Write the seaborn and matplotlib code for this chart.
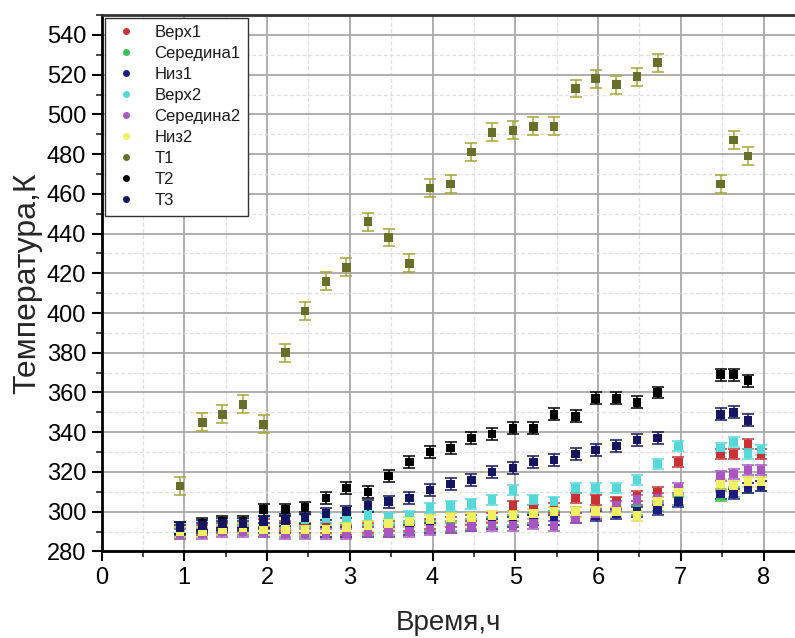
import matplotlib
matplotlib.use("Agg")
import matplotlib.pyplot as plt
from matplotlib.lines import Line2D
from matplotlib.ticker import MultipleLocator
import pandas as pd
import seaborn as sns

# Measurement times, hours
time_probe = [0.95, 1.22, 1.46, 1.71, 1.96, 2.22, 2.46, 2.71, 2.96, 3.22, 3.47, 3.72,
              3.97, 4.22, 4.47, 4.72, 4.97, 5.22, 5.47, 5.73, 5.97, 6.22, 6.47, 6.72,
              6.97, 7.48, 7.64, 7.81, 7.97]
time_t = [0.95, 1.22, 1.46, 1.71, 1.96, 2.22, 2.46, 2.71, 2.96, 3.22, 3.47, 3.72,
          3.97, 4.22, 4.47, 4.72, 4.97, 5.22, 5.47, 5.73, 5.97, 6.22, 6.47, 6.72,
          7.48, 7.64, 7.81]

# Temperatures, K
verh1 = [290, 291, 292, 292, 294, 293, 292, 292, 291, 292, 293, 293, 294, 295, 296,
         297, 303, 301, 302, 307, 306, 305, 308, 310, 325, 329, 329, 334, 329]
seredina1 = [289, 290, 291, 291, 290, 290, 290, 290, 290, 291, 291, 292, 293, 293, 294,
             295, 296, 297, 298, 300, 299, 300, 301, 303, 306, 308, 310, 312, 313]
niz1 = [291, 292, 293, 293, 292, 292, 291, 290, 290, 290, 290, 291, 292, 292, 293,
        294, 295, 296, 296, 297, 298, 299, 300, 301, 305, 309, 309, 312, 313]
verh2 = [292, 293, 294, 294, 295, 296, 296, 297, 297, 298, 297, 298, 302, 303, 304,
         306, 311, 306, 305, 312, 312, 312, 316, 324, 333, 332, 335, 329, 331]
seredina2 = [289, 289, 290, 290, 290, 289, 289, 289, 289, 290, 290, 290, 291, 292, 293,
             293, 293, 294, 293, 297, 299, 303, 306, 307, 312, 318, 319, 321, 321]
niz2 = [290, 290, 291, 292, 291, 291, 291, 291, 292, 293, 294, 295, 296, 297, 297,
        298, 298, 299, 300, 300, 300, 300, 298, 305, 310, 314, 313, 315, 315]
t1 = [313, 345, 349, 354, 344, 380, 401, 416, 423, 446, 438, 425, 463, 465, 481,
      491, 492, 494, 494, 513, 518, 515, 519, 526, 465, 487, 479]
t2 = [292, 294, 295, 295, 301, 301, 302, 307, 312, 310, 318, 325, 330, 332, 337,
      339, 342, 342, 349, 348, 357, 357, 355, 360, 369, 369, 366]
t3 = [292, 293, 294, 294, 295, 296, 297, 299, 300, 303, 305, 307, 311, 314, 316,
      320, 322, 325, 326, 329, 331, 333, 336, 337, 349, 350, 346]

names = ["Верх1", "Середина1", "Низ1", "Верх2", "Середина2", "Низ2", "T1", "T2", "T3"]
values = [verh1, seredina1, niz1, verh2, seredina2, niz2, t1, t2, t3]
times = [time_probe] * 6 + [time_t] * 3
errors = [2.5, 2.5, 2.5, 2.5, 2.5, 2.5, 4.5, 3.0, 3.0]

colors = ["#c83232", "#3cbf5a", "#1c1c80", "#55d8d8", "#a956c2", "#f0f060",
          "#66702a", "#000000", "#15155f"]
bar_colors = ["#c83232", "#3cbf5a", "#1c1c80", "#55d8d8", "#a956c2", "#e0e050",
              "#a8a632", "#000000", "#15155f"]

frames = []
for n, x, y in zip(names, times, values):
    frames.append(pd.DataFrame({"time": x, "temp": y, "series": n}))
df = pd.concat(frames, ignore_index=True)

sns.set_theme(style="white")
plt.rcParams["font.family"] = ["Liberation Sans", "DejaVu Sans"]

fig = plt.figure(figsize=(7.95, 6.38), dpi=100)
ax = fig.add_axes([0.1277, 0.1357, 0.8723, 0.8407])

ax.set_xlim(0, 8.38)
ax.set_ylim(280, 550)
ax.xaxis.set_major_locator(MultipleLocator(1))
ax.xaxis.set_minor_locator(MultipleLocator(0.5))
ax.yaxis.set_major_locator(MultipleLocator(20))
ax.yaxis.set_minor_locator(MultipleLocator(10))
ax.set_yticks(range(280, 541, 20))

ax.grid(True, which="major", color="#a8a8a8", linewidth=1.3, linestyle="-")
ax.grid(True, which="minor", color="#dedede", linewidth=0.9, linestyle=(0, (3, 2)))
ax.set_axisbelow(True)

for n, x, y, e, c in zip(names, times, values, errors, bar_colors):
    ax.errorbar(x, y, yerr=e, fmt="none", ecolor=c, elinewidth=1.1,
                capsize=4, capthick=1.1, zorder=2)

sns.scatterplot(data=df, x="time", y="temp", hue="series", hue_order=names,
                palette=dict(zip(names, colors)), marker="s", s=38,
                edgecolor="none", linewidth=0, legend=False, ax=ax, zorder=3)

for side in ["left", "bottom", "top"]:
    ax.spines[side].set_visible(True)
    ax.spines[side].set_color("black")
    ax.spines[side].set_linewidth(2.0)
ax.spines["top"].set_color("#333333")
ax.spines["right"].set_visible(False)

ax.tick_params(axis="both", which="major", direction="out", length=7, width=1.5,
               labelsize=17, colors="black", pad=4)
ax.tick_params(axis="both", which="minor", direction="out", length=4, width=1.2)
ax.tick_params(axis="x", which="both", bottom=True, top=False)
ax.tick_params(axis="y", which="both", left=True, right=False)

ax.set_xlabel("Время,ч", fontsize=20, labelpad=15)
ax.set_ylabel("Температура,К", fontsize=23, labelpad=3)

handles = [Line2D([0], [0], marker="o", linestyle="none", markersize=5,
                  markerfacecolor=c, markeredgecolor="none") for c in colors]
leg = ax.legend(handles, names, loc="upper left", bbox_to_anchor=(0.005, 0.995),
                borderaxespad=0, frameon=True, fancybox=False, framealpha=1,
                edgecolor="#333333", fontsize=12, labelspacing=0.36,
                handletextpad=0.9, handlelength=1.6, borderpad=0.45)
leg.get_frame().set_linewidth(1.0)
for txt in leg.get_texts():
    txt.set_color("#1a1a1a")

fig.savefig("out.png", dpi=100)
